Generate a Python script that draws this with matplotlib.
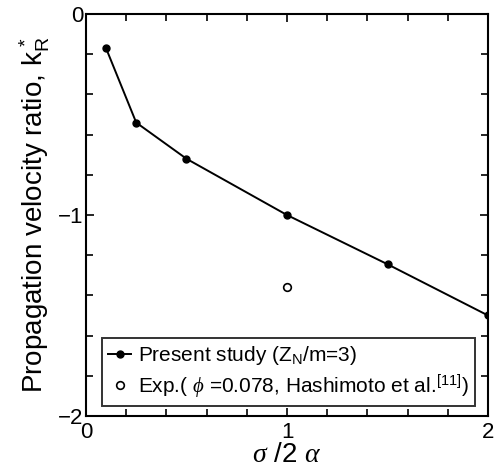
import matplotlib
matplotlib.use("Agg")
import matplotlib.pyplot as plt
from matplotlib.ticker import MultipleLocator

plt.rcParams["font.family"] = ["Liberation Sans", "DejaVu Sans"]
plt.rcParams["mathtext.fontset"] = "custom"
plt.rcParams["mathtext.rm"] = "Liberation Sans"
plt.rcParams["mathtext.it"] = "Liberation Serif:italic"

# present study (Z_N/m = 3)
sigma_ratio = [0.1, 0.25, 0.5, 1.0, 1.5, 2.0]
k_r = [-0.17, -0.54, -0.72, -1.0, -1.245, -1.50]

# experiment (Hashimoto et al.)
exp_x = [1.0]
exp_y = [-1.36]

fig = plt.figure(figsize=(4.94, 4.70), dpi=100)
ax = fig.add_axes([0.174, 0.115, 0.814, 0.855])

ax.plot(sigma_ratio, k_r, color="black", lw=1.4, marker="o", ms=5,
        label="Present study (Z$_\\mathrm{N}$/m=3)")
ax.plot(exp_x, exp_y, ls="none", marker="o", ms=5.5, mfc="white",
        mec="black", mew=1.2,
        label="Exp.( $\\phi$ =0.078, Hashimoto et al.$^{[11]}$)")

ax.set_xlim(0, 2)
ax.set_ylim(-2, 0)
ax.xaxis.set_major_locator(MultipleLocator(1))
ax.xaxis.set_minor_locator(MultipleLocator(0.2))
ax.yaxis.set_major_locator(MultipleLocator(1))
ax.yaxis.set_minor_locator(MultipleLocator(0.2))
ax.tick_params(which="both", direction="in", top=True, right=True,
               labelsize=16, width=1.2)
ax.tick_params(which="major", length=6, pad=2)
ax.tick_params(axis="x", which="major", pad=4.5)
ax.tick_params(which="minor", length=5)
for s in ax.spines.values():
    s.set_linewidth(1.5)

ax.set_xlabel("$\\sigma$ /2 $\\alpha$", fontsize=20, labelpad=-1)
ax.set_ylabel("Propagation velocity ratio, k$_\\mathrm{R}^{\\,*}$",
              fontsize=20, labelpad=4)

leg = ax.legend(loc="lower left", bbox_to_anchor=(0.04, 0.025),
                fontsize=15, frameon=True, fancybox=False,
                handlelength=1.1, handletextpad=0.35, borderpad=0.3,
                labelspacing=0.25, borderaxespad=0)
leg.get_frame().set_edgecolor("black")
leg.get_frame().set_linewidth(1.4)

fig.savefig("out.png", dpi=100, facecolor="white")
